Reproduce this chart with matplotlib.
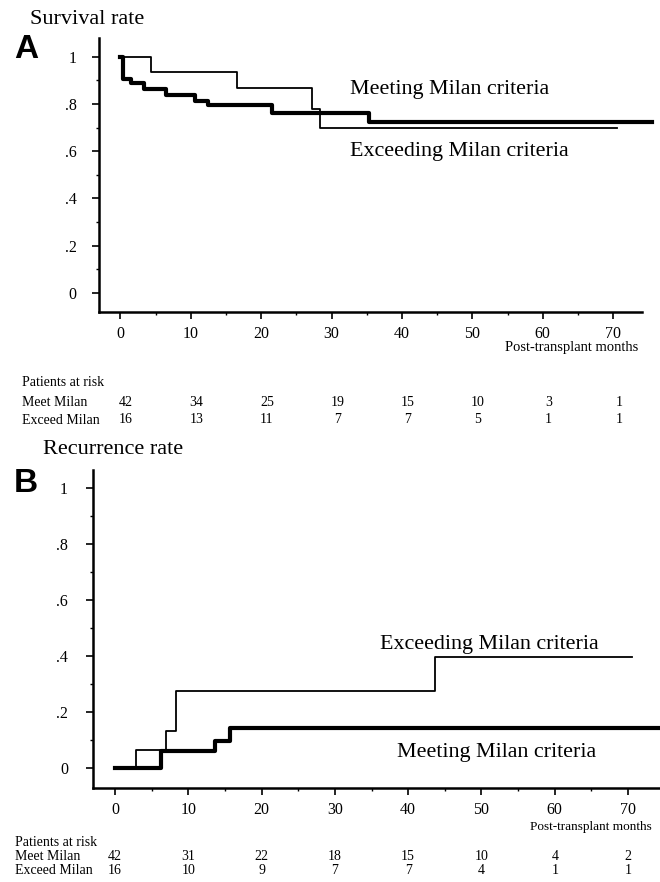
import matplotlib
matplotlib.use("Agg")
import matplotlib.pyplot as plt
from matplotlib.ticker import MultipleLocator, FixedLocator, FixedFormatter

plt.rcParams["font.family"] = ["Liberation Serif", "DejaVu Serif"]

# Panel A: survival (Kaplan-Meier steps)
surv_meet_t = [0, 0.3, 1.5, 3.3, 6.5, 10.6, 12.4, 21.5, 35.3, 75.5]
surv_meet_y = [1.0, 0.905, 0.888, 0.862, 0.838, 0.815, 0.795, 0.76, 0.725, 0.725]
surv_exc_t = [0, 4.4, 16.5, 27.2, 28.3, 70.5]
surv_exc_y = [1.0, 0.935, 0.87, 0.78, 0.70, 0.70]

# Panel B: recurrence
rec_meet_t = [0, 6.3, 13.6, 15.7, 74.5]
rec_meet_y = [0.0, 0.06, 0.098, 0.143, 0.143]
rec_exc_t = [0, 2.9, 7.0, 8.3, 43.7, 70.5]
rec_exc_y = [0.0, 0.064, 0.132, 0.275, 0.395, 0.395]

risk_times = [0, 10, 20, 30, 40, 50, 60, 70]
risk_a_meet = [42, 34, 25, 19, 15, 10, 3, 1]
risk_a_exc = [16, 13, 11, 7, 7, 5, 1, 1]
risk_b_meet = [42, 31, 22, 18, 15, 10, 4, 2]
risk_b_exc = [16, 10, 9, 7, 7, 4, 1, 1]

ytick_vals = [0, 0.2, 0.4, 0.6, 0.8, 1.0]
ytick_labels = ["0", ".2", ".4", ".6", ".8", "1"]

fig = plt.figure(figsize=(6.6, 8.82), dpi=100)
axA = fig.add_axes([0.15, 0.6463, 0.8227, 0.3107])
axB = fig.add_axes([0.1409, 0.1066, 0.859, 0.3605])


def style_axes(ax, xlim, ylim, ypad):
    ax.set_xlim(*xlim)
    ax.set_ylim(*ylim)
    ax.spines[["top", "right"]].set_visible(False)
    for s in ("left", "bottom"):
        ax.spines[s].set_linewidth(1.8)
    ax.xaxis.set_major_locator(MultipleLocator(10))
    ax.xaxis.set_minor_locator(MultipleLocator(5))
    ax.yaxis.set_major_locator(FixedLocator(ytick_vals))
    ax.yaxis.set_major_formatter(FixedFormatter(ytick_labels))
    ax.yaxis.set_minor_locator(MultipleLocator(0.1))
    ax.tick_params(axis="both", which="major", direction="out", length=5,
                   width=1.2, labelsize=11.5)
    ax.tick_params(axis="both", which="minor", direction="out", length=2.5,
                   width=1.0)
    ax.tick_params(axis="y", which="major", pad=ypad)
    ax.tick_params(axis="x", which="major", pad=5)


def risk_table(ax, meet, exc, ys, xoff):
    tr = ax.get_xaxis_transform()
    for t, m, e in zip(risk_times, meet, exc):
        ax.text(t + xoff, ys[1], str(m), transform=tr, ha="center",
                va="center", fontsize=10, clip_on=False)
        ax.text(t + xoff, ys[2], str(e), transform=tr, ha="center",
                va="center", fontsize=10, clip_on=False)


# ---- Panel A ----
style_axes(axA, (-3.05, 74.1), (-0.0805, 1.08), 11)
axA.step(surv_meet_t, surv_meet_y, where="post", color="black", lw=3.0,
         clip_on=False)
axA.step(surv_exc_t, surv_exc_y, where="post", color="black", lw=1.3)
axA.text(32.6, 0.86, "Meeting Milan criteria", fontsize=15.8, va="center")
axA.text(32.6, 0.60, "Exceeding Milan criteria", fontsize=15.8, va="center")
axA.text(0.993, -0.13, "Post-transplant months", transform=axA.transAxes,
         ha="right", va="center", fontsize=10.5)

fig.text(30 / 660, 1 - 20 / 882, "Survival rate", fontsize=16, va="center")
fig.text(26 / 660, 1 - 49 / 882, "A", fontsize=24, fontweight="bold",
         family="Liberation Sans", ha="center", va="center")

fig.text(22 / 660, 1 - 382 / 882, "Patients at risk", fontsize=10, va="center")
fig.text(22 / 660, 1 - 403 / 882, "Meet Milan", fontsize=10, va="center")
fig.text(22 / 660, 1 - 420 / 882, "Exceed Milan", fontsize=10, va="center")
risk_table(axA, risk_a_meet, risk_a_exc, (-0.255, -0.332, -0.394), 0.8)

# ---- Panel B ----
style_axes(axB, (-3.0, 74.35), (-0.071, 1.064), 13)
axB.step(rec_meet_t, rec_meet_y, where="post", color="black", lw=3.0,
         clip_on=False)
axB.step(rec_exc_t, rec_exc_y, where="post", color="black", lw=1.3)
axB.text(36.2, 0.44, "Exceeding Milan criteria", fontsize=15.8, va="center")
axB.text(38.5, 0.054, "Meeting Milan criteria", fontsize=15.8, va="center")
axB.text(0.985, -0.122, "Post-transplant months", transform=axB.transAxes,
         ha="right", va="center", fontsize=9.5)

fig.text(43 / 660, 1 - 450 / 882, "Recurrence rate", fontsize=16, va="center")
fig.text(26 / 660, 1 - 484 / 882, "B", fontsize=24, fontweight="bold",
         family="Liberation Sans", ha="center", va="center")

fig.text(15 / 660, 1 - 842 / 882, "Patients at risk", fontsize=10, va="center")
fig.text(15 / 660, 1 - 857 / 882, "Meet Milan", fontsize=10, va="center")
fig.text(15 / 660, 1 - 871 / 882, "Exceed Milan", fontsize=10, va="center")
risk_table(axB, risk_b_meet, risk_b_exc, (-0.17, -0.217, -0.261), 0.0)

fig.savefig("out.png", dpi=100)
